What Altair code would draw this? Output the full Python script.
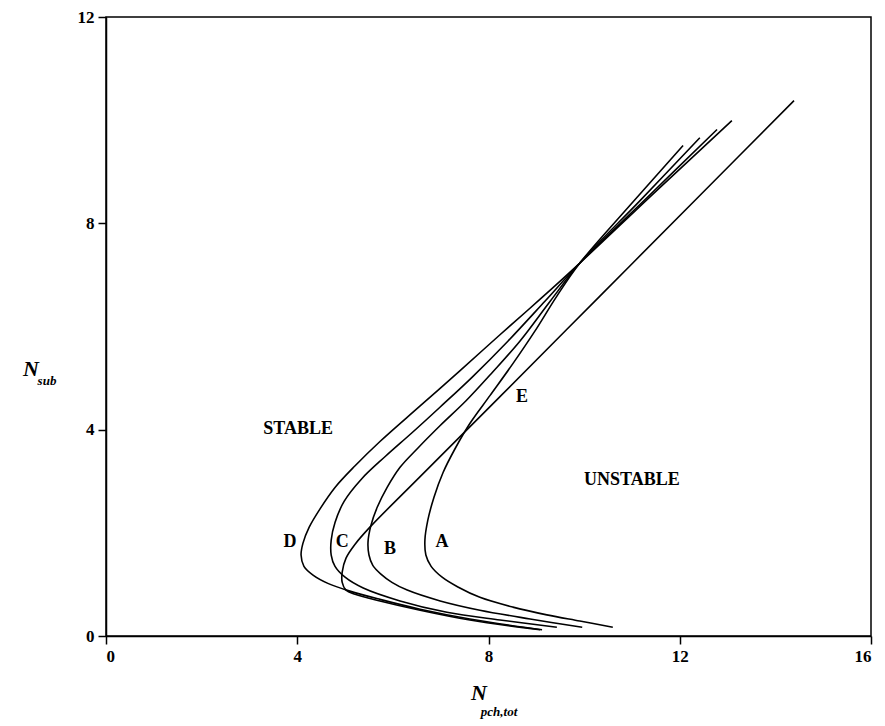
import altair as alt
import pandas as pd

# ---- curve data (N_pch,tot , N_sub), traced from upper end to lower end ----
A_x = [12.07, 10.96, 9.91, 9.43, 8.97, 8.51, 8.03, 7.61, 7.30, 7.05, 6.86, 6.73, 6.67, 6.69, 6.80, 7.03, 7.36, 7.82, 8.51, 9.22, 9.91, 10.60]
A_y = [9.51, 8.35, 7.23, 6.59, 5.91, 5.28, 4.66, 4.12, 3.63, 3.17, 2.69, 2.24, 1.86, 1.57, 1.35, 1.14, 0.95, 0.75, 0.56, 0.41, 0.29, 0.17]

B_x = [12.42, 11.17, 9.91, 9.29, 8.66, 8.07, 7.53, 6.99, 6.53, 6.15, 5.88, 5.67, 5.54, 5.48, 5.50, 5.58, 5.75, 5.98, 6.30, 6.99, 7.82, 8.87, 9.96]
B_y = [9.66, 8.44, 7.23, 6.49, 5.72, 5.10, 4.56, 4.08, 3.65, 3.27, 2.88, 2.49, 2.14, 1.82, 1.57, 1.37, 1.20, 1.04, 0.89, 0.68, 0.50, 0.33, 0.17]

C_x = [12.78, 11.34, 9.91, 9.18, 8.41, 7.66, 6.99, 6.40, 5.84, 5.35, 4.98, 4.79, 4.71, 4.71, 4.79, 5.00, 5.38, 6.15, 7.13, 8.24, 9.43]
C_y = [9.82, 8.52, 7.23, 6.49, 5.72, 5.02, 4.44, 3.94, 3.48, 3.05, 2.61, 2.20, 1.86, 1.57, 1.35, 1.14, 0.93, 0.68, 0.46, 0.31, 0.17]

D_x = [13.09, 11.50, 9.91, 9.08, 8.24, 7.40, 6.57, 5.73, 5.21, 4.79, 4.48, 4.25, 4.12, 4.08, 4.14, 4.33, 4.64, 5.10, 5.73, 6.57, 7.61, 9.12]
D_y = [9.99, 8.62, 7.23, 6.53, 5.84, 5.14, 4.46, 3.77, 3.30, 2.88, 2.47, 2.11, 1.80, 1.57, 1.35, 1.18, 1.02, 0.87, 0.71, 0.52, 0.33, 0.12]

E_x = [14.39, 12.42, 10.33, 8.24, 6.57, 5.52, 5.21, 5.02, 4.94, 4.94, 5.02, 5.21, 5.73, 6.57, 7.61, 9.08]
E_y = [10.38, 8.54, 6.59, 4.64, 3.09, 2.11, 1.78, 1.51, 1.24, 1.04, 0.89, 0.81, 0.68, 0.50, 0.31, 0.12]

curve_names = ["A", "B", "C", "D", "E"]
curve_x = [A_x, B_x, C_x, D_x, E_x]
curve_y = [A_y, B_y, C_y, D_y, E_y]

# ---- in-plot labels ----
label_text = ["STABLE", "UNSTABLE", "A", "B", "C", "D", "E"]
label_x = [4.02, 11.0, 7.03, 5.94, 4.94, 3.85, 8.70]
label_y = [4.02, 3.03, 1.82, 1.68, 1.82, 1.82, 4.64]

x_ticks = [0, 4, 8, 12, 16]
y_ticks = [0, 4, 8, 12]

rows = []
for name, xs_, ys_ in zip(curve_names, curve_x, curve_y):
    for i, (xv, yv) in enumerate(zip(xs_, ys_)):
        rows.append({"curve": name, "i": i, "x": xv, "y": yv})
df = pd.DataFrame(rows)
labels = pd.DataFrame({"t": label_text, "x": label_x, "y": label_y})

FONT = "Liberation Serif"
xs = alt.Scale(domain=[0, 16], nice=False, zero=False)
ys = alt.Scale(domain=[0, 12], nice=False, zero=False)

lines = alt.Chart(df).mark_line(color="black", strokeWidth=1.6, interpolate="catmull-rom").encode(
    x=alt.X("x:Q", scale=xs, axis=alt.Axis(values=x_ticks, title=None, format="d")),
    y=alt.Y("y:Q", scale=ys, axis=alt.Axis(values=y_ticks, title=None, format="d")),
    detail="curve:N",
    order="i:Q",
)

text = alt.Chart(labels).mark_text(font=FONT, fontWeight="bold", fontSize=18, color="black").encode(
    x=alt.X("x:Q", scale=xs), y=alt.Y("y:Q", scale=ys), text="t:N"
)

title_df = pd.DataFrame({"k": [0]})
def title_text(s, px, py, size):
    return alt.Chart(title_df).mark_text(
        text=s, font=FONT, fontStyle="italic", fontWeight="bold", fontSize=size, color="black"
    ).encode(x=alt.value(px), y=alt.value(py))

y_N = title_text("N", -75, 352, 22)
y_sub = title_text("sub", -59, 364, 13)
x_N = title_text("N", 373, 676, 22)
x_sub = title_text("pch,tot", 393, 695, 13)

chart = alt.layer(lines, text, y_N, y_sub, x_N, x_sub).properties(
    width=765, height=619,
    background="white",
    autosize=alt.AutoSizeParams(type="none"),
    padding={"left": 98, "top": 9, "right": 6, "bottom": 85},
).configure_view(stroke="black", strokeWidth=1.5).configure_axis(
    grid=False,
    domainColor="black", domainWidth=1.5,
    tickColor="black", tickWidth=1.5, tickSize=8,
    labelFont=FONT, labelFontWeight="bold", labelFontSize=17, labelColor="black",
    labelPadding=4,
)

chart.save("out.html", embed_options={"renderer": "svg", "actions": False})
